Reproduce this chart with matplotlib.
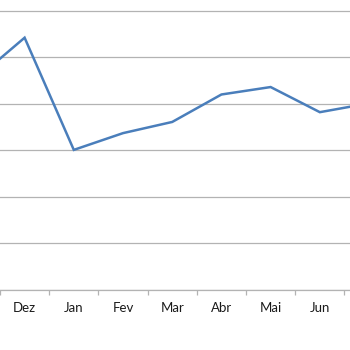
import numpy as np
import matplotlib
matplotlib.use("Agg")
import matplotlib.pyplot as plt
from matplotlib.transforms import offset_copy

# months (Nov and Jul are only partly visible at the edges)
months = ["Nov", "Dez", "Jan", "Fev", "Mar", "Abr", "Mai", "Jun", "Jul"]
values = [4.52, 5.42, 3.01, 3.37, 3.61, 4.20, 4.36, 3.82, 4.01]
shown_labels = ["Dez", "Jan", "Fev", "Mar", "Abr", "Mai", "Jun"]

x = np.arange(len(months)) - 1  # Dez at 0

fig = plt.figure(figsize=(3.5, 3.5), dpi=100)
ax = fig.add_axes([0, 60 / 350, 1, 290 / 350])

ax.plot(x, values, color="#4a7ebb", lw=1.8, solid_joinstyle="miter", zorder=3)

ax.set_xlim(-22 / 49.6, 328 / 49.6)
ax.set_ylim(0, 290 / 46.55)

ax.set_yticks(np.arange(0, 7))
ax.yaxis.grid(True, color="#b3b3b3", lw=0.9)
ax.tick_params(axis="y", left=False, labelleft=False)

# category labels on a common baseline
ax.set_xticks(np.arange(len(shown_labels)))
ax.tick_params(axis="x", which="major", length=0, labelbottom=False)
trans = offset_copy(ax.get_xaxis_transform(), fig=fig, y=-22, units="dots")
for i, lab in enumerate(shown_labels):
    ax.text(i, 0, lab, transform=trans, ha="center", va="baseline",
            fontsize=9.5, family="Lato", color="#1a1a1a", clip_on=False)

ax.set_xticks(np.arange(-1, len(shown_labels)) + 0.5, minor=True)
ax.tick_params(axis="x", which="minor", length=3.5, color="#b3b3b3", width=0.9)

for s in ["top", "left", "right"]:
    ax.spines[s].set_visible(False)
ax.spines["bottom"].set_color("#b3b3b3")
ax.spines["bottom"].set_linewidth(0.9)

plt.savefig("out.png", dpi=100)
